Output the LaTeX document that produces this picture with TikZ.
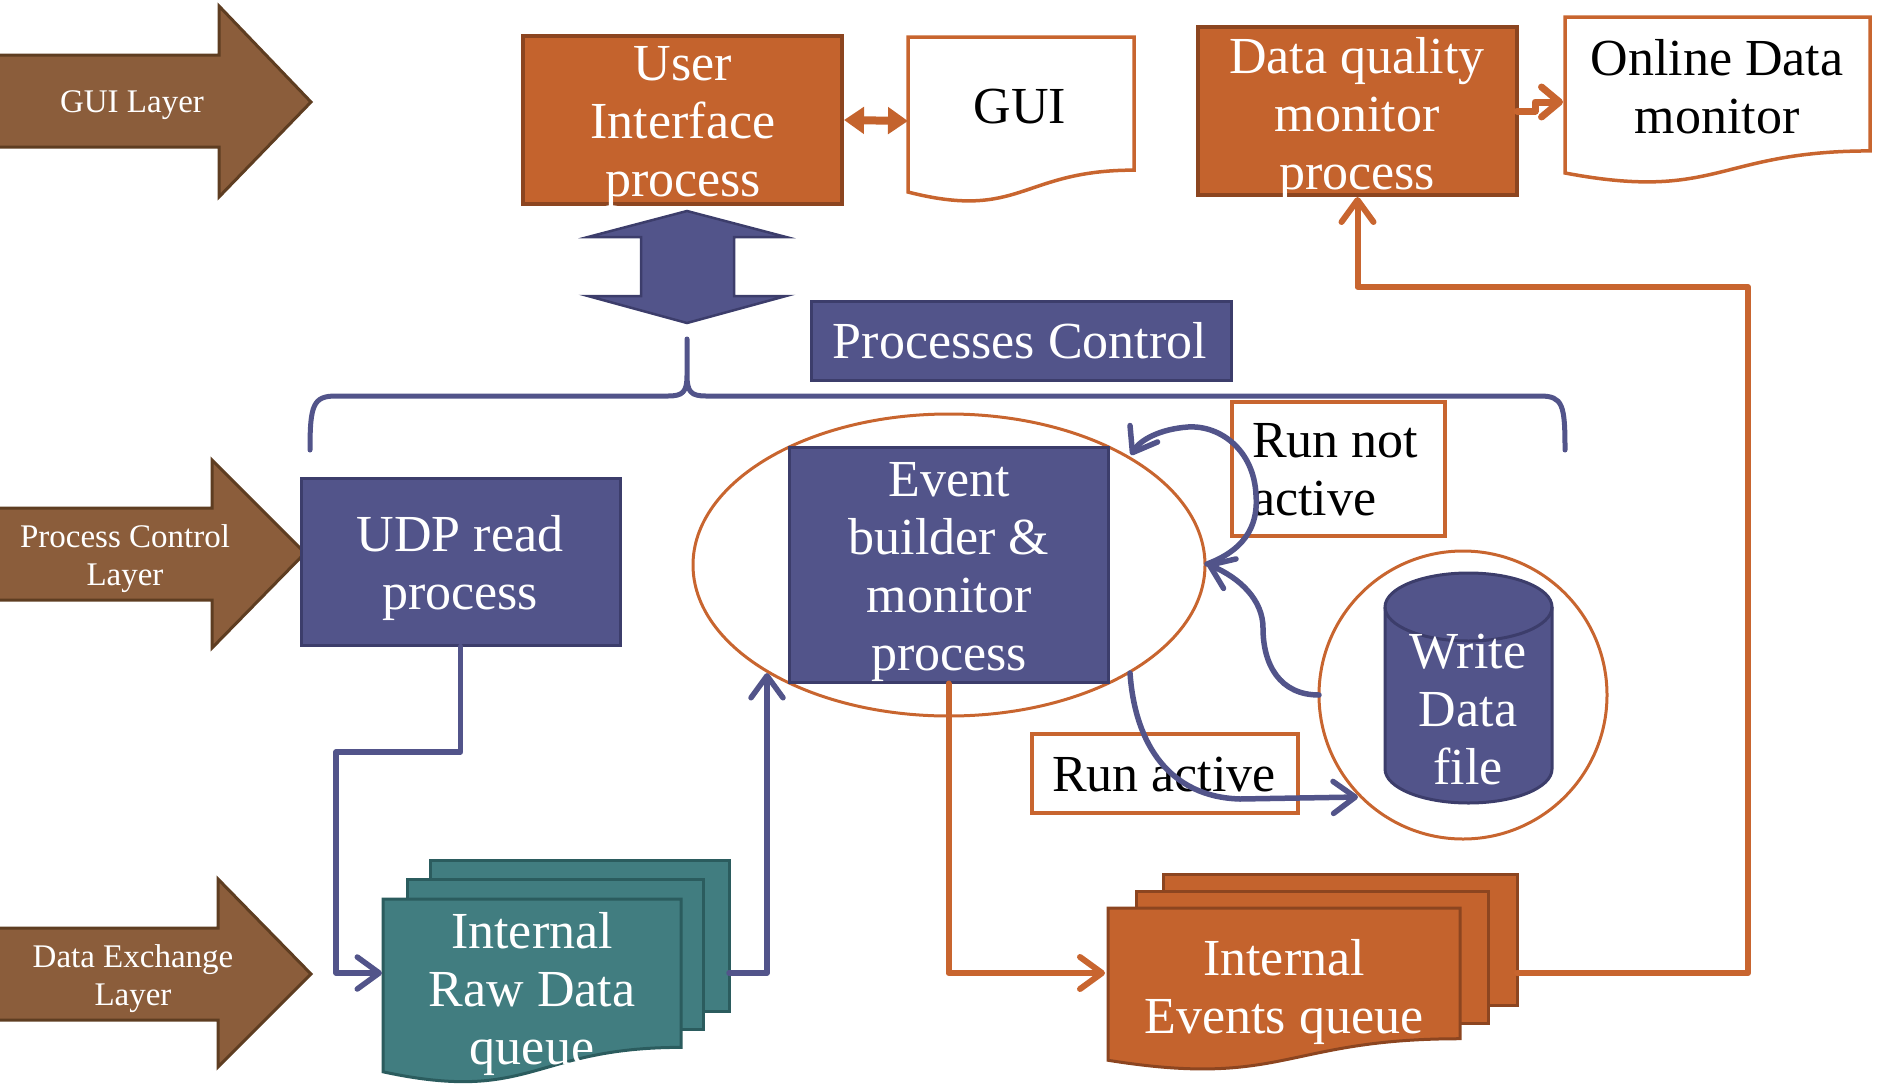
\documentclass[tikz,border=0pt]{standalone}
\usepackage{fontspec}
\setmainfont{Liberation Serif}
\usetikzlibrary{arrows.meta,shapes.geometric}
\definecolor{ofill}{HTML}{C4632D}
\definecolor{oline}{HTML}{8C4520}
\definecolor{obright}{HTML}{C8652F}
\definecolor{bfill}{HTML}{52548A}
\definecolor{bline}{HTML}{3C3D6B}
\definecolor{tfill}{HTML}{417D80}
\definecolor{tline}{HTML}{2B5C5E}
\definecolor{brfill}{HTML}{8B5D3B}
\definecolor{brline}{HTML}{5E3D21}
\newcommand{\mydocshape}[5]{%
  \pgfmathsetmacro{\dA}{#3+0.802*#5}%
  \pgfmathsetmacro{\dB}{#3+1.1075*#5}%
  \pgfmathsetmacro{\dC}{#3+0.934*#5}%
  \pgfmathsetmacro{\dM}{(#2+#4)/2}%
  \draw[#1] (#2,#3) -- (#4,#3) -- (#4,\dA) .. controls (\dM,\dA) and (\dM,\dB) .. (#2,\dC) -- cycle;%
}
\begin{document}
\begin{tikzpicture}[x=1pt,y=-1pt,
  bigtxt/.style={font=\fontsize{52}{58}\selectfont, align=center, inner sep=0pt},
  smalltxt/.style={font=\fontsize{33}{38}\selectfont, align=center, text=white, inner sep=0pt},
  orangebox/.style={draw=oline, fill=ofill, line width=4pt},
  bluebox/.style={draw=bline, fill=bfill, line width=3pt},
  tealbox/.style={draw=tline, fill=tfill, line width=3pt},
  whitebox/.style={draw=obright, fill=white, line width=3.5pt},
  layer/.style={draw=brline, fill=brfill, line width=3pt},
  bcon/.style={draw=bfill, line width=5.5pt, line cap=round, line join=round},
  ocon/.style={draw=obright, line width=6pt, line cap=round, line join=round},
  barb/.style={-{Straight Barb[length=22pt,width=32pt,round]}},
]
\useasboundingbox (0,0) rectangle (1878,1084);

% layer arrows
\draw[layer] (-5,55) -- (219,55) -- (219,6) -- (311,102) -- (219,197) -- (219,147) -- (-5,147) -- cycle;
\node[smalltxt] (guil) at (132,105) {GUI Layer};
\draw[layer] (-5,508) -- (212,508) -- (212,460) -- (305,553) -- (212,648) -- (212,600) -- (-5,600) -- cycle;
\node[smalltxt] (pcl) at (125,559) {Process Control\\Layer};
\draw[layer] (-5,928) -- (218,928) -- (218,879) -- (311,974) -- (218,1067) -- (218,1020) -- (-5,1020) -- cycle;
\node[smalltxt] (del) at (133,979) {Data Exchange\\Layer};

% brace
\draw[bcon, line width=5pt] (310,450) .. controls (310,405) and (313,396) .. (336,396) -- (668,396) .. controls (683,396) and (687,392) .. (687,375) -- (687,339) -- (687,375) .. controls (687,392) and (691,396) .. (706,396) -- (1540,396) .. controls (1563,396) and (1565,405) .. (1565,450);

% UI box and GUI
\node[orangebox, minimum width=319pt, minimum height=168pt] (ui) at (682.5,120) {};
\node[bigtxt, text=white] (uit) at (683,127) {User\\Interface\\process};
\mydocshape{whitebox}{908}{37}{1134}{166}
\coordinate (guiW) at (908,121);
\node[bigtxt] (gui) at (1020,107) {GUI};
\draw[ofill, line width=8pt, {Triangle[length=20pt,width=26pt]}-{Triangle[length=20pt,width=26pt]}] (ui.east) -- (guiW);

% big double arrow
\draw[bluebox, line width=2.5pt] (687,211) -- (786,237) -- (734,237) -- (734,296) -- (786,296) -- (687,323) -- (588,296) -- (641,296) -- (641,237) -- (588,237) -- cycle;

% Processes control
\node[bluebox, minimum width=420pt, minimum height=79pt] (pc) at (1021,340.5) {};
\node[bigtxt, text=white] (pct) at (1020,341) {Processes Control};

% DQ and online
\node[orangebox, minimum width=319pt, minimum height=168pt] (dq) at (1357.5,111) {};
\node[bigtxt, text=white] (dqt) at (1357,119) {Data quality\\monitor\\process};
\mydocshape{whitebox}{1565}{17}{1870}{167}
\node[bigtxt] (odm) at (1717,87) {Online Data\\monitor};
\coordinate (dqE) at (1517,111);
\coordinate (odmW) at (1563,102);
\draw[ocon, line width=7pt, -{Straight Barb[length=18pt,width=30pt,round]}] (dqE) -- (1535,111) |- (odmW);

% UDP
\node[bluebox, minimum width=319pt, minimum height=167pt] (udp) at (460.5,561.5) {};
\node[bigtxt, text=white] (udpt) at (460,568) {UDP read\\process};

% event builder
\node[ellipse, draw=obright, line width=3pt, minimum width=512pt, minimum height=302pt, inner sep=0pt] (ell) at (949,565) {};
\node[bluebox, minimum width=319pt, minimum height=235pt] (ev) at (948.5,564.5) {};
\node[bigtxt, text=white] (evt) at (949,572) {Event\\builder \&\\monitor\\process};

% Run not active
\node[whitebox, minimum width=213pt, minimum height=134pt] (rna) at (1338.5,469) {};
\node[bigtxt, align=left, anchor=west] (rnat) at (1252,470) {Run not\\active};

% Write data file
\node[circle, draw=obright, line width=3pt, minimum size=288pt, inner sep=0pt] (wc) at (1463,695) {};
\draw[bluebox] (1385,607) -- (1385,769) arc[start angle=180,end angle=360,x radius=83.5pt,y radius=34pt] -- (1552,607) arc[start angle=0,end angle=180,x radius=83.5pt,y radius=34pt] -- cycle;
\draw[bline, line width=3pt] (1385,607) arc[start angle=180,end angle=360,x radius=83.5pt,y radius=34pt];
\node[bigtxt, text=white] (wdf) at (1468,710) {Write\\Data\\file};

% Run active
\node[whitebox, minimum width=266pt, minimum height=79pt] (ra) at (1165,773.5) {};
\node[bigtxt] (rat) at (1164,775) {Run active};

% raw data stack
\draw[tealbox] (430,860) rectangle (729,1011);
\draw[tealbox] (407,879) rectangle (703,1029);
\mydocshape{tealbox}{383}{899}{681}{185}
\node[bigtxt, text=white] (raw) at (532,994) {Internal\\Raw Data\\queue};

% events stack
\draw[orangebox, line width=3pt] (1163,874) rectangle (1517,1005);
\draw[orangebox, line width=3pt] (1136,891) rectangle (1488,1023);
\mydocshape{orangebox, line width=3pt}{1108}{908}{1460}{163}
\node[bigtxt, text=white] (eq) at (1284,992) {Internal\\Events queue};

% connectors
\coordinate (rawW) at (382,973);
\coordinate (rawE) at (729,973);
\coordinate (ellSW) at (767,673);
\coordinate (eqW) at (1105,973);
\coordinate (eqE) at (1517,973);
\draw[bcon, barb] (udp.south) |- (336,752) |- (rawW);
\draw[bcon, barb] (rawE) -| (ellSW);
\draw[ocon, barb] (ev.south) |- (eqW);
\draw[ocon, barb] (eqE) -| (1748,287) -| (dq.south);

% curved arrows
\coordinate (wcW) at (1319,695);
\coordinate (ellE) at (1207,564);
\coordinate (ellNE) at (1131,455);
\coordinate (ellSE) at (1130,673);
\coordinate (wcSW) at (1358,797);
\draw[bcon, barb] (wcW) .. controls (1280,695) and (1263,665) .. (1263,628) .. controls (1263,600) and (1240,578) .. (ellE);
\draw[bcon, barb] (ellE) .. controls (1250,548) and (1258,520) .. (1256,495) .. controls (1254,450) and (1220,425) .. (1188,427) .. controls (1160,429) and (1140,440) .. (ellNE);
\draw[bcon, barb] (ellSE) .. controls (1135,745) and (1170,797) .. (1240,799) -- (wcSW);
\end{tikzpicture}
\end{document}
